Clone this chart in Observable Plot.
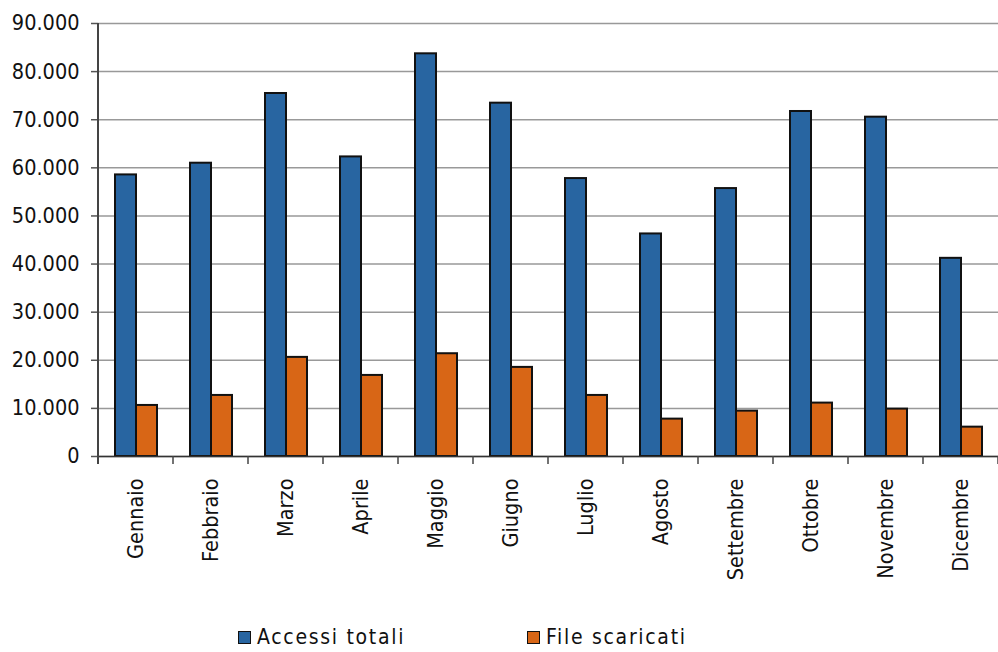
<!DOCTYPE html>
<html><head><meta charset="utf-8">
<script src="https://cdn.jsdelivr.net/npm/d3@7"></script>
<script src="https://cdn.jsdelivr.net/npm/@observablehq/plot@0.6"></script>
<style>
body{margin:0;background:#fff;font-family:"DejaVu Sans Condensed","DejaVu Sans",sans-serif;}
#wrap{position:relative;width:998px;height:652px;overflow:hidden;}
#chart svg{display:block;}
#legend{position:absolute;left:0;top:625px;width:998px;height:24px;font-size:21px;letter-spacing:1.7px;color:#111;}
.item{position:absolute;top:0;height:24px;display:flex;align-items:center;white-space:nowrap;}
.sw{width:11px;height:11px;border:1.5px solid #111;margin-right:6px;}
</style></head><body>
<div id="wrap"><div id="chart"></div><div id="legend"></div></div>
<script>
const months = ["Gennaio","Febbraio","Marzo","Aprile","Maggio","Giugno","Luglio","Agosto","Settembre","Ottobre","Novembre","Dicembre"];
const accessiTotali = [58530, 60960, 75450, 62270, 83700, 73440, 57770, 46260, 55690, 71710, 70530, 41190];
const fileScaricati = [10610, 12690, 20600, 16850, 21360, 18520, 12690, 7770, 9430, 11100, 9850, 6100];
const seriesNames = ["Accessi totali", "File scaricati"];
const seriesColors = ["#2865A1", "#D86616"];
const yTicks = [0, 10000, 20000, 30000, 40000, 50000, 60000, 70000, 80000, 90000];

const data = months.flatMap((m, i) => [
  {month: m, series: seriesNames[0], value: accessiTotali[i]},
  {month: m, series: seriesNames[1], value: fileScaricati[i]}
]);
const fmt = d => d3.format(",")(d).replace(/,/g, ".");

const chart = Plot.plot({
  width: 998, height: 612,
  marginTop: 23, marginLeft: 97, marginRight: 0, marginBottom: 156,
  style: {fontFamily: '"DejaVu Sans Condensed", "DejaVu Sans", sans-serif', fontSize: "21.5px", color: "#111", background: "#fff", overflow: "visible"},
  fx: {domain: months, padding: 0, label: null},
  x: {domain: seriesNames, paddingInner: 0, paddingOuter: 0.706, axis: null},
  y: {domain: [0, 90000], label: null},
  color: {domain: seriesNames, range: seriesColors},
  marks: [
    Plot.gridY(yTicks, {stroke: "#999", strokeOpacity: 1, strokeWidth: 1.5}),
    Plot.axisY(yTicks, {tickSize: 7, tickPadding: 12, tickFormat: fmt, label: null, stroke: "#555", strokeWidth: 1.5, fontSize: 21.5}),
    Plot.axisFx({anchor: "bottom", tickRotate: -90, tickSize: 0, tickPadding: 22, label: null, fontSize: 21.5}),
    Plot.barY(data, {fx: "month", x: "series", y: "value", fill: "series", stroke: "#111", strokeWidth: 2}),
    Plot.ruleY([0], {stroke: "#333", strokeWidth: 1.5})
  ]
});
document.getElementById("chart").appendChild(chart);

// axis line on the left and category boundary ticks, placed through Plot's scales
const svg = d3.select(chart);
const fx = chart.scale("fx");
const y = chart.scale("y");
const y0 = y.apply(0);
const yTop = y.apply(yTicks[yTicks.length - 1]);
const x0 = fx.apply(months[0]);
const bounds = months.map(m => fx.apply(m)).concat([fx.apply(months[months.length - 1]) + fx.step]);
const g = svg.append("g");
g.append("line").attr("x1", x0).attr("x2", x0).attr("y1", yTop).attr("y2", y0 + 8)
  .attr("stroke", "#444").attr("stroke-width", 2);
g.selectAll("line.bt").data(bounds).join("line").attr("class", "bt")
  .attr("x1", d => d).attr("x2", d => d).attr("y1", y0).attr("y2", y0 + 8)
  .attr("stroke", "#444").attr("stroke-width", 1.5);

// legend
const legend = d3.select("#legend");
const legendLeft = [238, 527];
seriesNames.forEach((s, i) => {
  const it = legend.append("div").attr("class", "item").style("left", legendLeft[i] + "px");
  it.append("div").attr("class", "sw").style("background", seriesColors[i]);
  it.append("span").text(s);
});
</script>
</body></html>
